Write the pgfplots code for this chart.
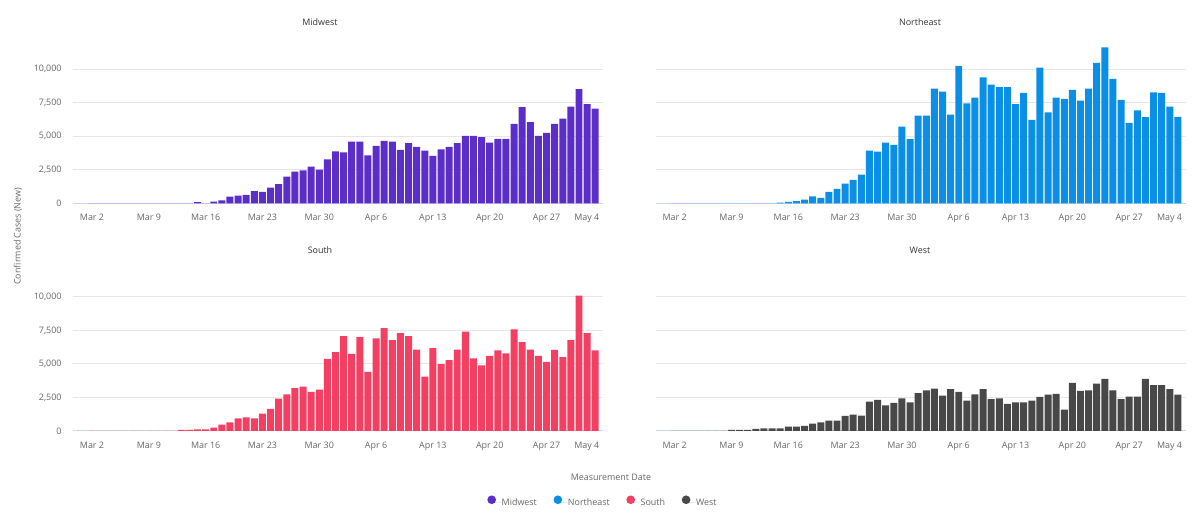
\documentclass[border=0pt]{standalone}
\usepackage{fontspec}
\setmainfont{Open Sans}
\usepackage{pgfplots}
\usepackage{pgfplotstable}
\pgfplotsset{compat=1.18}

\definecolor{mwcol}{RGB}{92,46,200}
\definecolor{necol}{RGB}{11,142,230}
\definecolor{socol}{RGB}{242,63,98}
\definecolor{wecol}{RGB}{72,72,72}
\definecolor{gridcol}{RGB}{230,230,230}
\definecolor{axiscol}{RGB}{204,214,235}
\definecolor{labcol}{RGB}{102,102,102}
\definecolor{titcol}{RGB}{51,51,51}

% d = days since Mar 2
\pgfplotstableread{
d  mw    ne     so     we
0  0     0      0      0
1  0     0      0      0
2  0     0      0      0
3  0     0      0      0
4  0     0      0      0
5  0     0      0      0
6  0     0      0      0
7  0     0      0      75
8  0     0      0      75
9  0     0      0      75
10 0     0      0      150
11 0     0      75     200
12 0     0      75     200
13 80    50     125    200
14 0     100    125    325
15 120   150    250    325
16 220   270    475    375
17 500   520    650    550
18 570   400    950    650
19 620   850    1020   775
20 900   1070   950    775
21 850   1470   1300   1120
22 1170  1740   1650   1220
23 1420  2140   2420   1150
24 1990  3930   2740   2190
25 2360  3860   3190   2320
26 2460  4530   3320   1920
27 2740  4350   2920   2090
28 2510  5720   3090   2440
29 3270  4780   5390   2140
30 3870  6540   5890   2820
31 3800  6540   7080   3040
32 4600  8560   5760   3170
33 4600  8330   7010   2640
34 3580  6620   4410   3120
35 4280  10250  6910   2920
36 4650  7460   7680   2270
37 4600  7890   6780   2740
38 3980  9400   7310   3120
39 4480  8860   7080   2370
40 4200  8660   6080   2440
41 3930  8660   4060   2020
42 3530  7390   6180   2140
43 4030  8240   4990   2140
44 4200  6220   5290   2270
45 4480  10130  6080   2540
46 5030  6790   7410   2720
47 5030  7890   5410   2770
48 4930  7790   4890   1600
49 4530  8460   5610   3590
50 4800  7660   6010   2990
51 4800  8560   5790   3040
52 5920  10480  7580   3540
53 7170  11640  6630   3890
54 6050  9280   6080   3040
55 5030  7710   5610   2370
56 5250  6000   5160   2570
57 5920  6940   6060   2570
58 6320  6420   5510   3890
59 7220  8280   6780   3420
60 8510  8240   10100  3420
61 7390  7220   7310   3120
62 7070  6440   6010   2720
}\cases

\pgfplotsset{
  panel/.style={
    scale only axis, width=397.5pt, height=120.6pt,
    anchor=south west,
    xmin=-2.3, xmax=63, ymin=0, ymax=12000,
    axis x line=bottom, axis y line=left, axis line style={-},
    x axis line style={draw=axiscol, line width=0.75pt},
    y axis line style={draw=none},
    ymajorgrids, major grid style={draw=gridcol, line width=0.75pt},
    major tick length=0pt,
    xtick={0,7,...,56},
    xticklabels={Mar 2,Mar 9,Mar 16,Mar 23,Mar 30,Apr 6,Apr 13,Apr 20,Apr 27},
    extra x ticks={63}, extra x tick labels={May 4},
    extra x tick style={tick label style={anchor=north east, xshift=0.5pt}},
    ytick={0,2500,5000,7500,10000},
    scaled y ticks=false,
    /pgf/number format/assume math mode=true,
    /pgf/number format/1000 sep={,},
    tick label style={font=\fontsize{6.7}{8}\selectfont, text=labcol},
    xticklabel style={yshift=-4.7pt},
    yticklabel style={xshift=-5.3pt},
  },
  bars/.style={ybar, bar width=0.86, draw=none, fill=#1},
}

\begin{document}
\begin{tikzpicture}
\path[use as bounding box] (0,0) rectangle (900pt,392.25pt);

% Midwest
\begin{axis}[panel, at={(55pt,239.8pt)}]
\addplot[bars=mwcol] table[x=d, y=mw] {\cases};
\end{axis}

% Northeast
\begin{axis}[panel, at={(492pt,239.8pt)}, yticklabels={}]
\addplot[bars=necol] table[x=d, y=ne] {\cases};
\end{axis}

% South
\begin{axis}[panel, at={(55pt,69pt)}]
\addplot[bars=socol] table[x=d, y=so] {\cases};
\end{axis}

% West
\begin{axis}[panel, at={(492pt,69pt)}, yticklabels={}]
\addplot[bars=wecol] table[x=d, y=we] {\cases};
\end{axis}

% legend
\begin{axis}[hide axis, scale only axis, width=10pt, height=10pt,
  xmin=0, xmax=1, ymin=0, ymax=1,
  at={(451.5pt,15.75pt)}, anchor=center,
  legend columns=4,
  legend style={at={(0.5,0.5)}, anchor=center, draw=none, fill=none,
    font=\fontsize{6.7}{8}\selectfont, text=labcol,
    nodes={inner xsep=0pt, inner ysep=1pt},
    /tikz/every even column/.append style={column sep=12.5pt}},
  legend image code/.code={\fill[#1] (0pt,2.3pt) circle (3.25pt);
    \path (-3.25pt,0pt) -- (7.5pt,0pt);}]
\addlegendimage{fill=mwcol, draw=none}
\addlegendentry{Midwest}
\addlegendimage{fill=necol, draw=none}
\addlegendentry{Northeast}
\addlegendimage{fill=socol, draw=none}
\addlegendentry{South}
\addlegendimage{fill=wecol, draw=none}
\addlegendentry{West}
\end{axis}

\begin{scope}[every node/.style={font=\fontsize{6.7}{8}\selectfont}]
\node[text=titcol] at (240pt,375.75pt) {Midwest};
\node[text=titcol] at (690pt,375.75pt) {Northeast};
\node[text=titcol] at (240pt,204.75pt) {South};
\node[text=titcol] at (690pt,204.75pt) {West};
\node[text=labcol] at (458.25pt,34.5pt) {Measurement Date};
\node[text=labcol, rotate=90] at (13.5pt,215pt) {Confirmed Cases (New)};
\end{scope}
\end{tikzpicture}
\end{document}
